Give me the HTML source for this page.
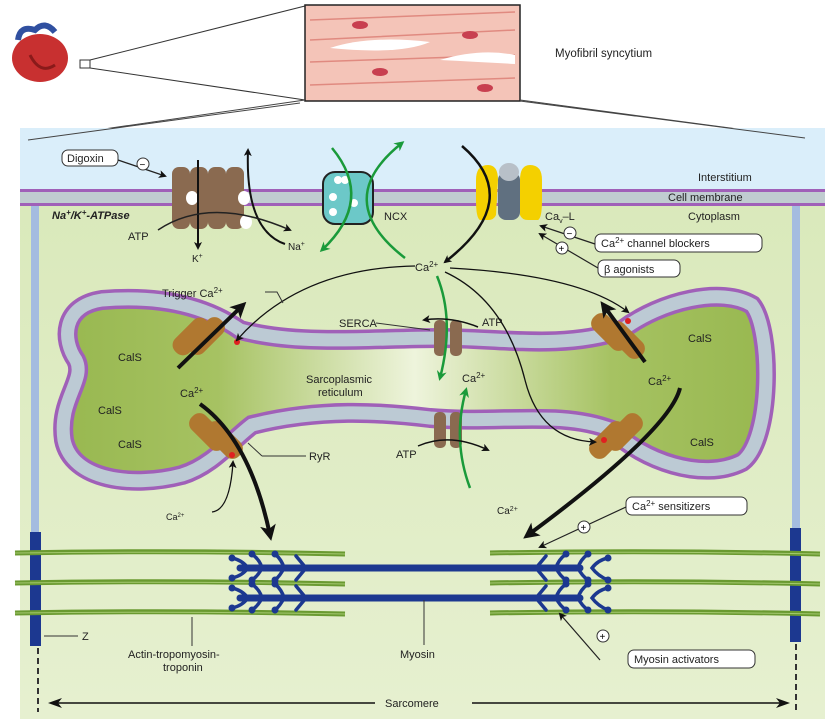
<!DOCTYPE html>
<html><head><meta charset="utf-8"><style>
html,body{margin:0;padding:0;background:#fff;}
svg{display:block;font-family:"Liberation Sans",sans-serif;}
</style></head><body>
<svg width="835" height="719" viewBox="0 0 835 719" xmlns="http://www.w3.org/2000/svg">
<defs>
<linearGradient id="cyto" x1="0" y1="0" x2="0" y2="1">
<stop offset="0" stop-color="#d8e8b8"/><stop offset="1" stop-color="#e6f0d0"/></linearGradient>
<linearGradient id="sr" x1="0" y1="0" x2="1" y2="0">
<stop offset="0" stop-color="#98b850"/><stop offset="0.22" stop-color="#a6c262"/>
<stop offset="0.5" stop-color="#eef4dc"/><stop offset="0.78" stop-color="#a6c262"/><stop offset="1" stop-color="#98b850"/></linearGradient>
<marker id="ab" markerWidth="8" markerHeight="8" refX="6" refY="4" orient="auto" markerUnits="userSpaceOnUse"><path d="M0,0 L8,4 L0,8 L2,4Z" fill="#111"/></marker>
<marker id="abig" markerWidth="16" markerHeight="16" refX="10" refY="8" orient="auto" markerUnits="userSpaceOnUse"><path d="M0,0 L16,8 L0,16 L4,8Z" fill="#111"/></marker>
<marker id="ag" markerWidth="10" markerHeight="10" refX="7" refY="5" orient="auto" markerUnits="userSpaceOnUse"><path d="M0,0 L10,5 L0,10 L3,5Z" fill="#1a9a3a"/></marker>
</defs>
<rect width="835" height="719" fill="#fff"/>
<!-- heart -->
<ellipse cx="40" cy="58" rx="28" ry="24" fill="#c83030"/>
<path d="M18,40 Q20,25 35,30 Q45,20 55,32" stroke="#3050a0" stroke-width="6" fill="none"/>
<path d="M30,55 Q40,75 55,65" stroke="#8a1a1a" stroke-width="3" fill="none"/>
<rect x="80" y="60" width="10" height="8" fill="none" stroke="#333"/>
<line x1="90" y1="60" x2="305" y2="6" stroke="#333"/>
<line x1="90" y1="68" x2="305" y2="100" stroke="#333"/>
<!-- zoom rect -->
<rect x="305" y="5" width="215" height="96" fill="#f4c4b8" stroke="#222" stroke-width="1.5"/>
<path d="M310,20 L515,12 M310,40 L515,30 M310,62 L515,55 M310,85 L515,78" stroke="#e08a80" stroke-width="1.5"/>
<path d="M330,48 Q370,35 430,42 Q400,55 330,48Z" fill="#fff"/>
<path d="M440,60 Q480,48 515,55 L515,64 Q480,62 440,60Z" fill="#fff"/>
<ellipse cx="360" cy="25" rx="8" ry="4" fill="#c84050"/><ellipse cx="470" cy="35" rx="8" ry="4" fill="#c84050"/>
<ellipse cx="380" cy="72" rx="8" ry="4" fill="#c84050"/><ellipse cx="485" cy="88" rx="8" ry="4" fill="#c84050"/>
<text x="555" y="57" font-size="11.5" fill="#222">Myofibril syncytium</text>
<line x1="305" y1="100" x2="28" y2="140" stroke="#444"/>
<line x1="520" y1="100" x2="805" y2="138" stroke="#444"/>
<!-- panel -->
<rect x="20" y="128" width="805" height="591" fill="url(#cyto)"/>
<rect x="20" y="128" width="805" height="62" fill="#daeefa"/>
<line x1="28" y1="140" x2="300" y2="103" stroke="#444"/>
<line x1="805" y1="138" x2="520" y2="101" stroke="#444"/>
<rect x="20" y="190" width="805" height="15" fill="#c0ccd0"/>
<rect x="20" y="189" width="805" height="3" fill="#a060b8"/>
<rect x="20" y="203" width="805" height="3" fill="#a060b8"/>
<text x="698" y="181" font-size="11" fill="#222">Interstitium</text>
<text x="668" y="201" font-size="11" fill="#222">Cell membrane</text>
<text x="688" y="220" font-size="11" fill="#222">Cytoplasm</text>
<!-- vertical bars -->
<rect x="31" y="206" width="8" height="326" fill="#a4bce0"/>
<rect x="792" y="206" width="8" height="322" fill="#a4bce0"/>
<rect x="30" y="532" width="11" height="114" fill="#1c3890"/>
<rect x="790" y="528" width="11" height="114" fill="#1c3890"/>
<line x1="38" y1="648" x2="38" y2="712" stroke="#333" stroke-width="2" stroke-dasharray="6,4"/>
<line x1="796" y1="644" x2="796" y2="712" stroke="#333" stroke-width="2" stroke-dasharray="6,4"/>
<!-- Na/K ATPase -->
<g fill="#8a6a50">
<rect x="172" y="167" width="18" height="62" rx="7"/><rect x="190" y="167" width="18" height="62" rx="7"/>
<rect x="208" y="167" width="18" height="62" rx="7"/><rect x="226" y="167" width="18" height="62" rx="7"/>
</g>
<g fill="#fff"><ellipse cx="192" cy="198" rx="6" ry="7"/><ellipse cx="244" cy="198" rx="6" ry="7"/><ellipse cx="246" cy="222" rx="6" ry="7"/></g>
<line x1="198" y1="160" x2="198" y2="248" stroke="#111" stroke-width="2" marker-end="url(#ab)"/>
<path d="M285,244 Q245,230 248,150" stroke="#111" stroke-width="2" fill="none" marker-end="url(#ab)"/>
<path d="M158,230 Q210,195 290,230" stroke="#222" stroke-width="1.5" fill="none" marker-end="url(#ab)"/>
<text x="52" y="219" font-size="11" font-weight="bold" font-style="italic" fill="#222">Na<tspan font-size="8" dy="-4">+</tspan><tspan dy="4">/K</tspan><tspan font-size="8" dy="-4">+</tspan><tspan dy="4">-ATPase</tspan></text>
<text x="128" y="240" font-size="11" fill="#222">ATP</text>
<text x="192" y="262" font-size="10" fill="#222">K<tspan font-size="7" dy="-4">+</tspan></text>
<text x="288" y="250" font-size="10" fill="#222">Na<tspan font-size="7" dy="-4">+</tspan></text>
<rect x="62" y="150" width="56" height="16" rx="6" fill="#fff" stroke="#333"/>
<text x="67" y="162" font-size="11" fill="#222">Digoxin</text>
<line x1="118" y1="160" x2="165" y2="176" stroke="#222" stroke-width="1.3" marker-end="url(#ab)"/>
<circle cx="143" cy="164" r="6" fill="#fff" stroke="#333"/><text x="139.5" y="168" font-size="10">−</text>
<!-- NCX -->
<rect x="323" y="172" width="50" height="52" rx="12" fill="#6cc8c8" stroke="#222" stroke-width="2"/>
<g fill="#fff"><circle cx="338" cy="180" r="4"/><circle cx="345" cy="180" r="4"/><circle cx="333" cy="197" r="4"/><circle cx="333" cy="212" r="4"/><circle cx="354" cy="203" r="4"/></g>
<text x="384" y="220" font-size="11" fill="#222">NCX</text>
<path d="M332,148 Q375,200 322,250" stroke="#1a9a3a" stroke-width="2.5" fill="none" marker-end="url(#ag)"/>
<path d="M405,258 Q330,200 402,143" stroke="#1a9a3a" stroke-width="2.5" fill="none" marker-end="url(#ag)"/>
<!-- CaV-L -->
<path d="M476,180 Q476,165 488,165 Q498,165 498,180 L496,215 Q494,220 488,220 L480,220 Q476,218 476,200Z" fill="#f4d000"/>
<path d="M520,180 Q520,165 530,165 Q542,165 542,180 L542,200 Q542,218 538,220 L528,220 Q522,220 520,215Z" fill="#f4d000"/>
<rect x="498" y="172" width="22" height="48" rx="8" fill="#607080"/>
<ellipse cx="509" cy="172" rx="10" ry="9" fill="#b8c0c8"/>
<path d="M462,146 Q525,200 445,262" stroke="#111" stroke-width="2.5" fill="none" marker-end="url(#ab)"/>
<text x="545" y="220" font-size="11" fill="#222">Ca<tspan font-size="7" dy="3">v</tspan><tspan dy="-3">–L</tspan></text>
<rect x="595" y="234" width="167" height="18" rx="6" fill="#fff" stroke="#333"/>
<text x="601" y="247" font-size="11" fill="#222">Ca<tspan font-size="8" dy="-4">2+</tspan><tspan dy="4"> channel blockers</tspan></text>
<rect x="598" y="260" width="82" height="17" rx="6" fill="#fff" stroke="#333"/>
<text x="604" y="273" font-size="11" fill="#222">β agonists</text>
<line x1="595" y1="244" x2="541" y2="226" stroke="#222" stroke-width="1.2" marker-end="url(#ab)"/>
<line x1="598" y1="268" x2="540" y2="234" stroke="#222" stroke-width="1.2" marker-end="url(#ab)"/>
<circle cx="570" cy="233" r="6" fill="#fff" stroke="#333"/><text x="566.5" y="237" font-size="10">−</text>
<circle cx="562" cy="248" r="6" fill="#fff" stroke="#333"/><text x="558.5" y="252" font-size="10">+</text>
<text x="415" y="271" font-size="11" fill="#222">Ca<tspan font-size="8" dy="-4">2+</tspan></text>
<!-- SR -->
<path d="M240,330 C200,302 150,296 102,300 C62,306 62,340 76,360 C86,380 58,400 64,440 C72,480 132,488 182,475 C212,466 232,440 252,425 C320,408 380,412 430,418 C500,424 560,410 612,430 C642,460 702,482 742,462 C772,440 772,330 752,305 C722,287 662,300 622,330 C562,350 500,338 440,338 C370,338 300,346 240,330Z" fill="url(#sr)" stroke="#a060b8" stroke-width="20"/>
<path d="M240,330 C200,302 150,296 102,300 C62,306 62,340 76,360 C86,380 58,400 64,440 C72,480 132,488 182,475 C212,466 232,440 252,425 C320,408 380,412 430,418 C500,424 560,410 612,430 C642,460 702,482 742,462 C772,440 772,330 752,305 C722,287 662,300 622,330 C562,350 500,338 440,338 C370,338 300,346 240,330Z" fill="none" stroke="#bccad4" stroke-width="13"/>
<!-- RyR channels -->
<g fill="#b07830">
<rect x="180" y="318" width="20" height="44" rx="9" transform="rotate(45 195 340)"/>
<rect x="196" y="314" width="20" height="44" rx="9" transform="rotate(45 206 336)"/>
<rect x="198" y="410" width="20" height="44" rx="9" transform="rotate(-45 208 432)"/>
<rect x="214" y="418" width="20" height="44" rx="9" transform="rotate(-45 224 440)"/>
<rect x="600" y="310" width="20" height="44" rx="9" transform="rotate(-45 610 332)"/>
<rect x="616" y="318" width="20" height="44" rx="9" transform="rotate(-45 626 340)"/>
<rect x="598" y="418" width="20" height="44" rx="9" transform="rotate(45 608 440)"/>
<rect x="614" y="410" width="20" height="44" rx="9" transform="rotate(45 624 432)"/>
</g>
<g fill="#e02020"><circle cx="237" cy="342" r="3"/><circle cx="232" cy="455" r="3"/><circle cx="628" cy="321" r="3"/><circle cx="604" cy="440" r="3"/></g>
<line x1="178" y1="368" x2="242" y2="306" stroke="#111" stroke-width="4" marker-end="url(#abig)"/>
<line x1="645" y1="362" x2="604" y2="306" stroke="#111" stroke-width="4" marker-end="url(#abig)"/>
<path d="M200,404 Q250,440 270,535" stroke="#111" stroke-width="4" fill="none" marker-end="url(#abig)"/>
<path d="M680,388 Q670,430 528,535" stroke="#111" stroke-width="4" fill="none" marker-end="url(#abig)"/>
<!-- SERCA -->
<g fill="#8a6a50"><rect x="434" y="320" width="12" height="36" rx="5"/><rect x="450" y="320" width="12" height="36" rx="5"/>
<rect x="434" y="412" width="12" height="36" rx="5"/><rect x="450" y="412" width="12" height="36" rx="5"/></g>
<path d="M437,276 Q455,320 440,378" stroke="#1a9a3a" stroke-width="2.5" fill="none" marker-end="url(#ag)"/>
<path d="M470,488 Q452,440 466,390" stroke="#1a9a3a" stroke-width="2.5" fill="none" marker-end="url(#ag)"/>
<path d="M478,327 Q450,316 424,320" stroke="#111" stroke-width="1.5" fill="none" marker-end="url(#ab)"/>
<path d="M418,446 Q450,432 488,450" stroke="#111" stroke-width="1.5" fill="none" marker-end="url(#ab)"/>
<text x="339" y="327" font-size="11" fill="#222">SERCA</text>
<line x1="376" y1="323" x2="430" y2="330" stroke="#333"/>
<text x="482" y="326" font-size="11" fill="#222">ATP</text>
<text x="396" y="458" font-size="11" fill="#222">ATP</text>
<text x="462" y="382" font-size="11" fill="#222">Ca<tspan font-size="8" dy="-4">2+</tspan></text>
<text x="306" y="383" font-size="11" fill="#222">Sarcoplasmic</text>
<text x="318" y="396" font-size="11" fill="#222">reticulum</text>
<!-- Ca2+ distribution arrows -->
<path d="M415,266 Q300,268 237,340" stroke="#111" stroke-width="1.3" fill="none" marker-end="url(#ab)"/>
<path d="M450,268 Q580,275 628,312" stroke="#111" stroke-width="1.3" fill="none" marker-end="url(#ab)"/>
<path d="M445,272 Q505,300 525,380 Q540,440 595,442" stroke="#111" stroke-width="1.3" fill="none" marker-end="url(#ab)"/>
<path d="M212,512 Q230,510 233,462" stroke="#111" stroke-width="1.3" fill="none" marker-end="url(#ab)"/>
<text x="162" y="297" font-size="11" fill="#222">Trigger Ca<tspan font-size="8" dy="-4">2+</tspan></text>
<path d="M265,292 L277,292 L283,303" stroke="#333" fill="none"/>
<line x1="248" y1="443" x2="262" y2="456" stroke="#333"/><line x1="262" y1="456" x2="306" y2="456" stroke="#333"/>
<text x="309" y="460" font-size="11" fill="#222">RyR</text>
<g font-size="11" fill="#222">
<text x="118" y="361">CalS</text><text x="98" y="414">CalS</text><text x="118" y="448">CalS</text>
<text x="688" y="342">CalS</text><text x="690" y="446">CalS</text>
<text x="180" y="397">Ca<tspan font-size="8" dy="-4">2+</tspan></text>
<text x="648" y="385">Ca<tspan font-size="8" dy="-4">2+</tspan></text>
<text x="166" y="520" font-size="9">Ca<tspan font-size="6" dy="-3">2+</tspan></text>
<text x="497" y="514" font-size="10">Ca<tspan font-size="7" dy="-3">2+</tspan></text>
</g>
<rect x="626" y="497" width="121" height="18" rx="6" fill="#fff" stroke="#333"/>
<text x="632" y="510" font-size="11" fill="#222">Ca<tspan font-size="8" dy="-4">2+</tspan><tspan dy="4"> sensitizers</tspan></text>
<line x1="626" y1="507" x2="540" y2="547" stroke="#222" stroke-width="1.2" marker-end="url(#ab)"/>
<circle cx="584" cy="527" r="6" fill="#fff" stroke="#333"/><text x="580.5" y="531" font-size="10">+</text>
<!-- actin -->
<g stroke="#6a9a30" stroke-width="5" fill="none">
<path d="M15,553 Q180,550 345,554"/><path d="M15,583 Q180,580 345,584"/><path d="M15,613 Q180,610 345,614"/>
<path d="M490,553 Q655,550 820,554"/><path d="M490,583 Q655,580 820,584"/><path d="M490,613 Q655,610 820,614"/>
</g>
<g stroke="#a4c870" stroke-width="1" fill="none">
<path d="M15,553 Q180,551 345,554"/><path d="M15,583 Q180,581 345,584"/><path d="M15,613 Q180,611 345,614"/>
<path d="M490,553 Q655,551 820,554"/><path d="M490,583 Q655,581 820,584"/><path d="M490,613 Q655,611 820,614"/>
</g>
<!-- myosin -->
<g stroke="#1c3890" stroke-width="7" fill="none" stroke-linecap="round">
<line x1="240" y1="568" x2="580" y2="568"/><line x1="240" y1="598" x2="580" y2="598"/>
</g>
<g stroke="#1c3890" stroke-width="3.5" fill="none" stroke-linecap="round">
<path d="M232,558 Q242,560 248,568 Q242,576 232,578"/><path d="M252,554 Q260,560 262,568 Q258,576 252,580"/><path d="M275,554 Q282,560 284,568 Q280,576 275,580"/><path d="M296,556 L306,568 L296,580"/>
<path d="M232,588 Q242,590 248,598 Q242,606 232,608"/><path d="M252,584 Q260,590 262,598 Q258,606 252,610"/><path d="M275,584 Q282,590 284,598 Q280,606 275,610"/><path d="M296,586 L306,598 L296,610"/>
<path d="M608,558 Q598,560 592,568 Q598,576 608,580"/><path d="M588,554 Q580,560 578,568 Q582,576 588,580"/><path d="M566,554 Q558,560 556,568 Q560,576 566,580"/><path d="M546,556 L536,568 L546,580"/>
<path d="M608,588 Q598,590 592,598 Q598,606 608,610"/><path d="M588,584 Q580,590 578,598 Q582,606 588,610"/><path d="M566,584 Q558,590 556,598 Q560,606 566,610"/><path d="M546,586 L536,598 L546,610"/>
</g>
<g fill="#1c3890">
<circle cx="232" cy="558" r="3.5"/><circle cx="252" cy="554" r="3.5"/><circle cx="275" cy="554" r="3.5"/><circle cx="232" cy="578" r="3.5"/><circle cx="252" cy="580" r="3.5"/><circle cx="275" cy="580" r="3.5"/>
<circle cx="232" cy="588" r="3.5"/><circle cx="252" cy="584" r="3.5"/><circle cx="275" cy="584" r="3.5"/><circle cx="232" cy="608" r="3.5"/><circle cx="252" cy="610" r="3.5"/><circle cx="275" cy="610" r="3.5"/>
<circle cx="608" cy="558" r="3.5"/><circle cx="588" cy="554" r="3.5"/><circle cx="566" cy="554" r="3.5"/><circle cx="608" cy="580" r="3.5"/><circle cx="588" cy="580" r="3.5"/><circle cx="566" cy="580" r="3.5"/>
<circle cx="608" cy="588" r="3.5"/><circle cx="588" cy="584" r="3.5"/><circle cx="566" cy="584" r="3.5"/><circle cx="608" cy="610" r="3.5"/><circle cx="588" cy="610" r="3.5"/><circle cx="566" cy="610" r="3.5"/>
</g>
<line x1="600" y1="660" x2="560" y2="614" stroke="#222" stroke-width="1.2" marker-end="url(#ab)"/>
<circle cx="603" cy="636" r="6" fill="#fff" stroke="#333"/><text x="599.5" y="640" font-size="10">+</text>
<rect x="628" y="650" width="127" height="18" rx="6" fill="#fff" stroke="#333"/>
<text x="634" y="663" font-size="11" fill="#222">Myosin activators</text>
<line x1="44" y1="636" x2="78" y2="636" stroke="#333"/>
<text x="82" y="640" font-size="11" fill="#222">Z</text>
<line x1="192" y1="617" x2="192" y2="646" stroke="#333"/>
<text x="128" y="658" font-size="11" fill="#222">Actin-tropomyosin-</text>
<text x="163" y="671" font-size="11" fill="#222">troponin</text>
<line x1="424" y1="600" x2="424" y2="645" stroke="#333"/>
<text x="400" y="658" font-size="11" fill="#222">Myosin</text>
<line x1="52" y1="703" x2="375" y2="703" stroke="#111" stroke-width="1.5"/>
<path d="M48,703 L62,698 L58,703 L62,708Z" fill="#111"/>
<line x1="472" y1="703" x2="785" y2="703" stroke="#111" stroke-width="1.5"/>
<path d="M790,703 L776,698 L780,703 L776,708Z" fill="#111"/>
<text x="385" y="707" font-size="11" fill="#222">Sarcomere</text>
</svg>
</body></html>
